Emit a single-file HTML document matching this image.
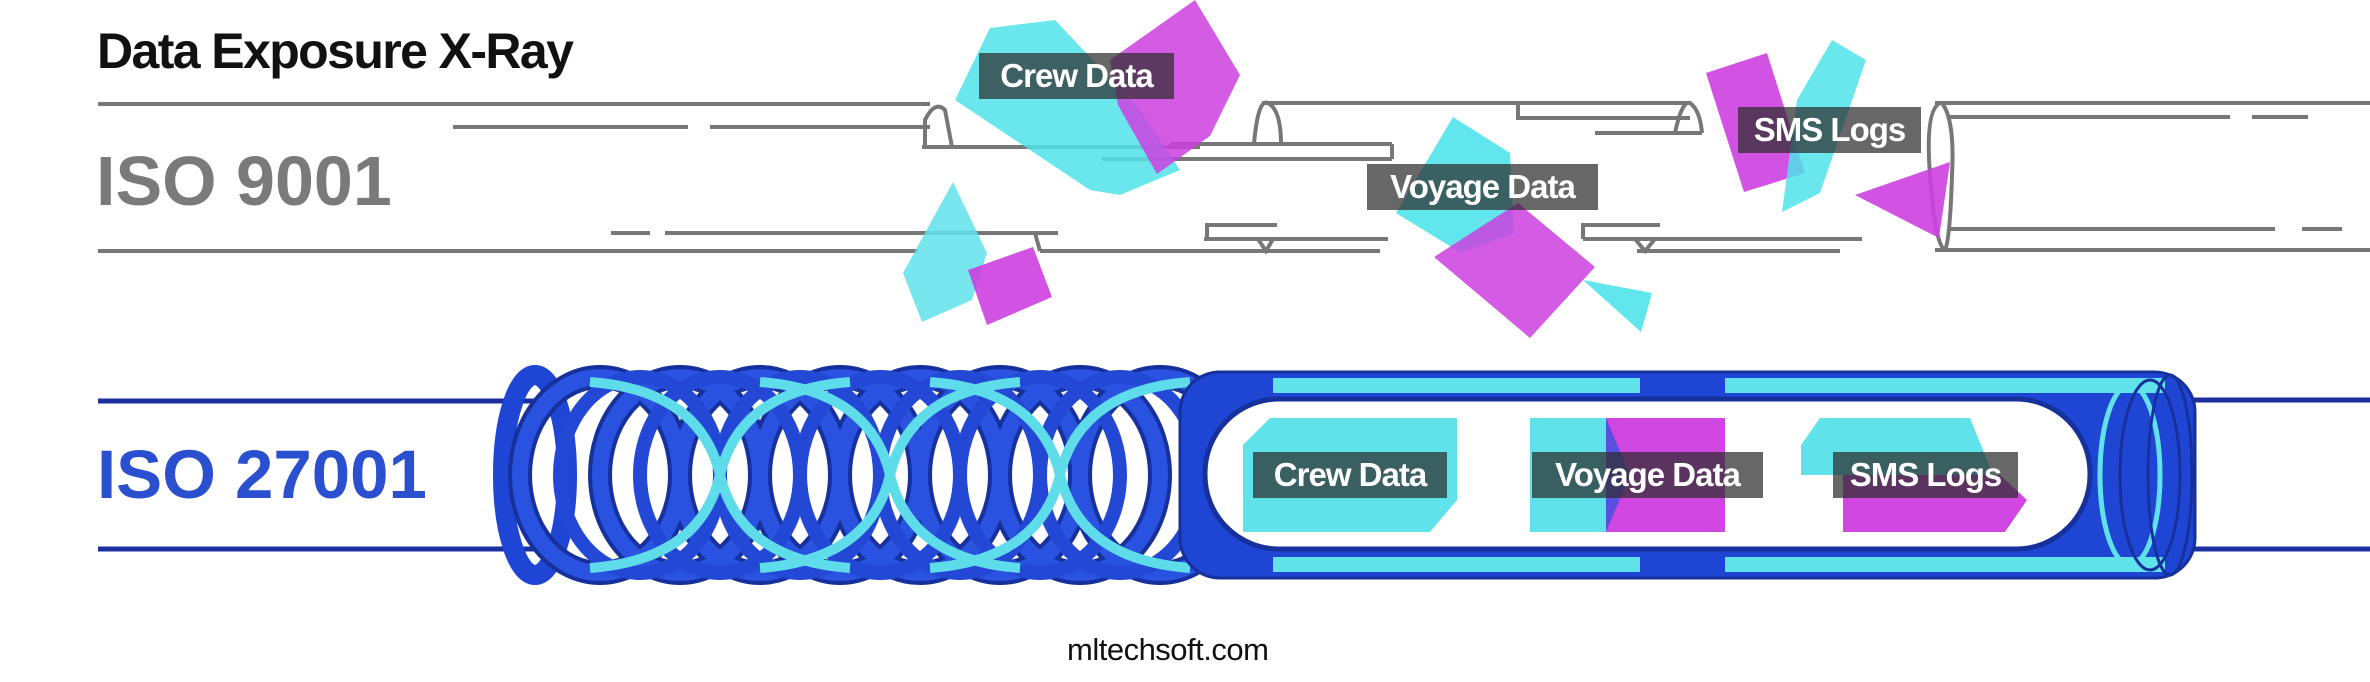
<!DOCTYPE html>
<html><head><meta charset="utf-8"><style>
html,body{margin:0;padding:0;background:#fff;}
body{width:2370px;height:682px;overflow:hidden;position:relative;font-family:"Liberation Sans",sans-serif;}
.t{position:absolute;white-space:nowrap;}
.lab{position:absolute;background:rgba(45,45,45,0.72);color:#fff;font-weight:bold;font-size:33px;line-height:46px;text-align:center;letter-spacing:-1px;}
</style></head><body>
<svg width="2370" height="682" style="position:absolute;left:0;top:0">
<g stroke="#777" stroke-width="4" fill="none">
<line x1="98" y1="104" x2="930" y2="104"/>
<line x1="453" y1="127" x2="688" y2="127"/><line x1="710" y1="127" x2="930" y2="127"/>
<path d="M925,147 L925,120 Q935,100 945,110 L952,147"/>
<line x1="922" y1="147" x2="1200" y2="147"/>
<line x1="1102" y1="159" x2="1180" y2="159"/>
<line x1="1262" y1="103" x2="1690" y2="103"/>
<path d="M1254,144 Q1258,98 1268,103 Q1281,110 1281,144"/>
<line x1="1170" y1="144" x2="1392" y2="144"/><line x1="1170" y1="159" x2="1392" y2="159"/><line x1="1392" y1="144" x2="1392" y2="159"/>
<path d="M1518,103 L1518,118 L1690,118"/>
<line x1="1595" y1="133" x2="1702" y2="133"/>
<path d="M1675,133 Q1682,100 1690,103 Q1700,110 1702,133"/>
<line x1="1935" y1="103" x2="2370" y2="103"/>
<path d="M1940,103 Q1925,110 1930,175 Q1935,245 1945,250"/>
<path d="M1942,103 Q1955,120 1952,175 Q1950,240 1945,250"/>
<line x1="1950" y1="117" x2="2230" y2="117"/><line x1="2252" y1="117" x2="2308" y2="117"/>
<line x1="1950" y1="229" x2="2275" y2="229"/><line x1="2302" y1="229" x2="2342" y2="229"/>
<line x1="98" y1="251" x2="918" y2="251"/>
<line x1="1040" y1="251" x2="1380" y2="251"/>
<line x1="611" y1="233" x2="650" y2="233"/><line x1="665" y1="233" x2="1058" y2="233"/>
<path d="M1035,233 L1040,251"/>
<path d="M1207,239 L1207,225 L1277,225"/><line x1="1204" y1="239" x2="1388" y2="239"/>
<path d="M1258,239 L1266,251 L1273,239"/>
<path d="M1583,239 L1583,225 L1660,225"/><line x1="1583" y1="239" x2="1862" y2="239"/>
<line x1="1637" y1="251" x2="1840" y2="251"/>
<path d="M1635,239 L1645,251 L1655,239"/>
<line x1="1935" y1="250" x2="2370" y2="250"/>
</g>
<g>
<polygon points="990,28 1055,20 1140,110 1180,170 1120,195 1090,190 955,100" fill="#4fe3ea" opacity="0.85"/>
<polygon points="1110,60 1195,0 1240,75 1210,136 1157,174 1118,105" fill="#cc3fe0" opacity="0.85"/>
<polygon points="953,182 987,253 972,300 922,322 903,273" fill="#5fe2ea" opacity="0.85"/>
<polygon points="1033,247 1052,297 987,325 968,270" fill="#cc3fe0" opacity="0.9"/>
<polygon points="1453,117 1510,153 1514,233 1461,253 1396,213" fill="#4fe3ea" opacity="0.9"/>
<polygon points="1518,203 1595,267 1530,338 1434,257" fill="#cc3fe0" opacity="0.85"/>
<polygon points="1583,280 1652,293 1641,332" fill="#4fe3ea" opacity="0.9"/>
<polygon points="1706,73 1767,53 1805,173 1744,192" fill="#cc3fe0" opacity="0.9"/>
<polygon points="1832,40 1866,60 1820,193 1782,212 1797,100" fill="#4fe3ea" opacity="0.85"/>
<polygon points="1855,195 1950,162 1939,238" fill="#cc3fe0" opacity="0.9"/>
</g>
<g stroke="#1c2f9e" stroke-width="5">
<line x1="98" y1="401" x2="540" y2="401"/><line x1="98" y1="549" x2="540" y2="549"/>
<line x1="2180" y1="400" x2="2370" y2="400"/><line x1="2180" y1="549" x2="2370" y2="549"/>
</g>
<g fill="none">
<ellipse cx="535" cy="475" rx="32" ry="100" stroke="#1f45d4" stroke-width="20"/>
<g stroke="#16309c" stroke-width="24">
<ellipse cx="600" cy="475" rx="80" ry="98"/><ellipse cx="680" cy="475" rx="80" ry="98"/>
<ellipse cx="760" cy="475" rx="80" ry="98"/><ellipse cx="840" cy="475" rx="80" ry="98"/>
<ellipse cx="920" cy="475" rx="80" ry="98"/><ellipse cx="1000" cy="475" rx="80" ry="98"/>
<ellipse cx="1080" cy="475" rx="80" ry="98"/><ellipse cx="1160" cy="475" rx="80" ry="98"/>
</g>
<g stroke="#2a52e0" stroke-width="16">
<ellipse cx="600" cy="475" rx="80" ry="98"/><ellipse cx="680" cy="475" rx="80" ry="98"/>
<ellipse cx="760" cy="475" rx="80" ry="98"/><ellipse cx="840" cy="475" rx="80" ry="98"/>
<ellipse cx="920" cy="475" rx="80" ry="98"/><ellipse cx="1000" cy="475" rx="80" ry="98"/>
<ellipse cx="1080" cy="475" rx="80" ry="98"/><ellipse cx="1160" cy="475" rx="80" ry="98"/>
</g>
<g stroke="#2348d6" stroke-width="14">
<ellipse cx="640" cy="475" rx="80" ry="98"/><ellipse cx="720" cy="475" rx="80" ry="98"/>
<ellipse cx="800" cy="475" rx="80" ry="98"/><ellipse cx="880" cy="475" rx="80" ry="98"/>
<ellipse cx="960" cy="475" rx="80" ry="98"/><ellipse cx="1040" cy="475" rx="80" ry="98"/>
<ellipse cx="1120" cy="475" rx="80" ry="98"/>
</g>
<g stroke="#5fdcea" stroke-width="10">
<path d="M590,382 Q700,390 720,475 Q740,560 850,568"/>
<path d="M760,382 Q870,390 890,475 Q910,560 1020,568"/>
<path d="M930,382 Q1040,390 1060,475 Q1080,560 1190,568"/>
<path d="M850,382 Q740,390 720,475 Q700,560 590,568"/>
<path d="M1020,382 Q910,390 890,475 Q870,560 760,568"/>
<path d="M1190,382 Q1080,390 1060,475 Q1040,560 930,568"/>
</g>
</g>
<rect x="1180" y="372" width="1015" height="206" rx="40" fill="#1f45d4" stroke="#16309c" stroke-width="3"/>
<rect x="1273" y="378" width="367" height="15" fill="#5fe2ea"/>
<rect x="1725" y="378" width="440" height="15" fill="#5fe2ea"/>
<rect x="1273" y="557" width="367" height="15" fill="#5fe2ea"/>
<rect x="1725" y="557" width="440" height="15" fill="#5fe2ea"/>
<rect x="1205" y="399" width="885" height="150" rx="74" fill="#fff" stroke="#16309c" stroke-width="5"/>
<g fill="none" stroke="#5fe2ea" stroke-width="5">
<ellipse cx="2130" cy="475" rx="30" ry="90"/>
</g>
<g fill="none" stroke="#16309c" stroke-width="3">
<ellipse cx="2150" cy="475" rx="30" ry="95"/><ellipse cx="2170" cy="475" rx="22" ry="100"/>
</g>
<polygon points="1270,418 1457,418 1457,500 1430,532 1243,532 1243,445" fill="#5fe2ea"/>
<rect x="1530" y="418" width="76" height="114" fill="#5fe2ea"/>
<rect x="1606" y="418" width="119" height="114" fill="#d046e0"/>
<polygon points="1606,418 1630,475 1606,532" fill="#5b4fe0"/>
<polygon points="1820,418 1970,418 1993,475 1801,475 1801,445" fill="#5fe2ea"/>
<polygon points="1843,475 2000,475 2027,500 2005,532 1843,532" fill="#d046e0"/>
</svg>
<div class="t" style="left:97px;top:22px;font-size:50px;font-weight:bold;color:#111;letter-spacing:-1.6px;">Data Exposure X-Ray</div>
<div class="t" style="left:96px;top:141px;font-size:70px;font-weight:bold;color:#7a7a7a;">ISO 9001</div>
<div class="t" style="left:97px;top:435px;font-size:69px;font-weight:bold;color:#2a4fcf;">ISO 27001</div>
<div class="lab" style="left:979px;top:53px;width:195px;">Crew Data</div>
<div class="lab" style="left:1367px;top:164px;width:231px;">Voyage Data</div>
<div class="lab" style="left:1738px;top:107px;width:183px;">SMS Logs</div>
<div class="lab" style="left:1253px;top:452px;width:194px;">Crew Data</div>
<div class="lab" style="left:1532px;top:452px;width:231px;">Voyage Data</div>
<div class="lab" style="left:1833px;top:452px;width:185px;">SMS Logs</div>
<div class="t" style="left:1067px;top:632px;font-size:31px;color:#111;letter-spacing:-0.5px;">mltechsoft.com</div>
</body></html>
